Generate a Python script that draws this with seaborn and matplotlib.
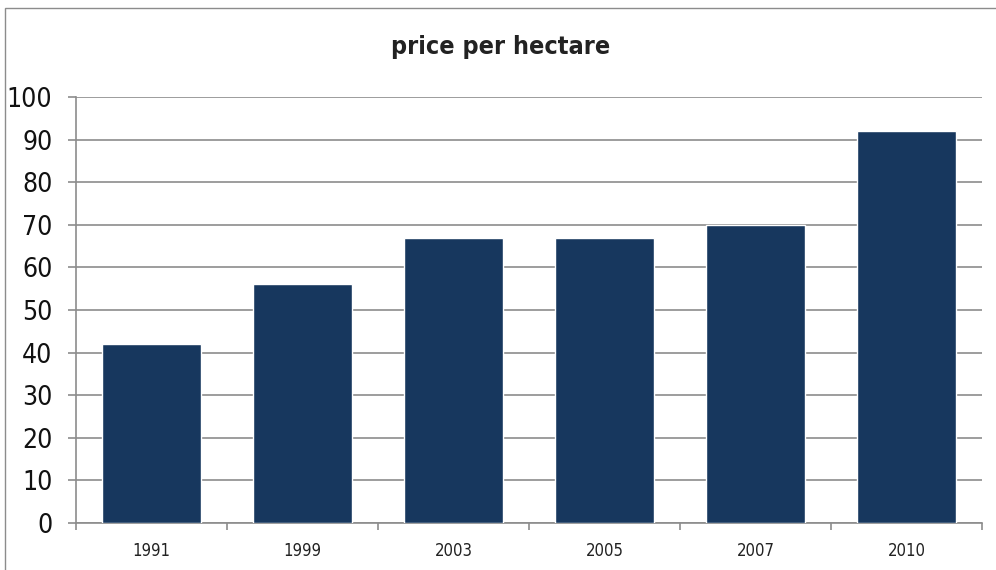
import pandas as pd
import matplotlib.pyplot as plt
import seaborn as sns
from matplotlib.patches import Rectangle
from matplotlib.ticker import FixedLocator

years = ['1991', '1999', '2003', '2005', '2007', '2010']
price = [42, 56, 67, 67, 70, 92]

df = pd.DataFrame({'year': years, 'price': price})

sns.set_style("white")
plt.rcParams['font.family'] = ['DejaVu Sans']
plt.rcParams['font.stretch'] = 'condensed'

fig = plt.figure(figsize=(9.96, 5.70), dpi=100)
ax = fig.add_axes([0.0763, 0.0825, 0.910, 0.7475])

sns.barplot(data=df, x='year', y='price', color='#17375E', width=0.655,
            saturation=1, ax=ax, zorder=3)

ax.set_xlim(-0.5, len(years) - 0.5)
ax.set_ylim(0, 100)
ax.set_yticks(range(0, 101, 10))
ax.yaxis.grid(True, color='#8c8c8c', linewidth=1.2, zorder=0)
ax.set_axisbelow(True)

for s in ['top', 'right']:
    ax.spines[s].set_visible(False)
for s in ['left', 'bottom']:
    ax.spines[s].set_color('#8c8c8c')
    ax.spines[s].set_linewidth(1.2)

# tick marks between categories, labels centred
ax.xaxis.set_minor_locator(FixedLocator([i - 0.5 for i in range(len(years) + 1)]))
ax.tick_params(axis='x', which='minor', bottom=True, length=5, color='#8c8c8c',
               width=1.2, direction='out')
ax.tick_params(axis='x', which='major', length=0, labelsize=12, colors='#222222', pad=14)
ax.tick_params(axis='y', left=True, length=6, color='#8c8c8c', width=1.2, direction='out',
               labelsize=19, colors='#111111', pad=11)
ax.set_xlabel('')
ax.set_ylabel('')

fig.text(0.503, 0.918, 'price per hectare', ha='center', va='center',
         fontsize=18, fontweight='bold', color='#222222')

fig.patches.append(Rectangle((0.005, -0.01), 1.2, 0.996, transform=fig.transFigure,
                             fill=False, edgecolor='#8c8c8c', linewidth=1))

fig.savefig('out.png', dpi=100)
